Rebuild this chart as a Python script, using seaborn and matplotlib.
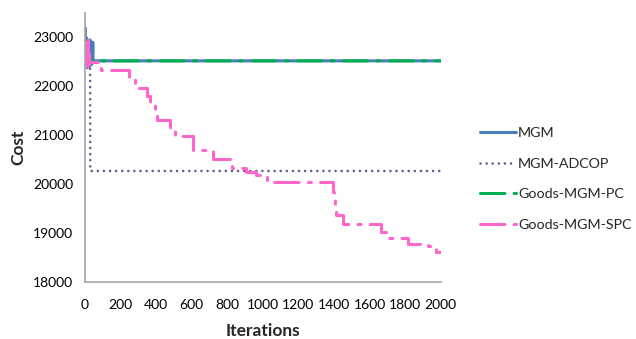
import pandas as pd
import matplotlib
matplotlib.use("Agg")
import matplotlib.pyplot as plt
import seaborn as sns

# Data (iteration, cost)
mgm_iter = [0, 2, 4, 6, 8, 10, 12, 14, 16, 18, 20, 22, 24, 26, 28, 30, 32, 34, 36, 38, 40, 42, 44, 46, 48, 2000]
mgm_cost = [22900, 23200, 22600, 22400, 23000, 22500, 22850, 22380, 22950, 22450, 22700, 22900, 22400,
            22800, 22500, 22950, 22420, 22850, 22600, 22900, 22450, 22800, 22550, 22900, 22520, 22520]

adcop_iter = [0, 5, 10, 15, 20, 25, 31, 32, 2000]
adcop_cost = [22600, 22450, 22700, 22500, 22550, 22480, 22480, 20270, 20270]

pc_iter = [0, 2, 4, 6, 8, 10, 12, 14, 16, 18, 20, 22, 2000]
pc_cost = [22700, 22950, 22500, 22800, 22450, 22900, 22600, 22850, 22480, 22750, 22550, 22520, 22520]

spc_iter = [0, 2, 4, 6, 8, 10, 12, 14, 16, 18, 20, 22, 24, 26, 90, 250, 285, 350, 365, 395, 405,
            480, 510, 610, 720, 830, 905, 960, 1027, 1393, 1400, 1405, 1410, 1450, 1662, 1690,
            1814, 1930, 1975, 2000]
spc_cost = [22600, 22850, 22450, 22900, 22500, 22750, 22420, 22800, 22550, 22950, 22480, 22650,
            22450, 22490, 22330, 22170, 21960, 21800, 21640, 21500, 21310, 21150, 20990, 20700,
            20520, 20330, 20240, 20195, 20050, 19830, 19680, 19520, 19360, 19180, 19016, 18894,
            18772, 18730, 18610, 18610]

dotted = (0, (0.01, 2.3))
series = [
    ("MGM", mgm_iter, mgm_cost, "#4A7EBB", "-", 2.2, None),
    ("MGM-ADCOP", adcop_iter, adcop_cost, "#6E5890", dotted, 1.9, None),
    ("Goods-MGM-PC", pc_iter, pc_cost, "#00B050", (0, (8, 3, 1, 3)), 2.2, None),
    ("Goods-MGM-SPC", spc_iter, spc_cost, "#FF66CC", (0, (8, 3, 1, 3)), 2.2, "steps-post"),
]

sns.set_style("white")
plt.rcParams['font.family'] = ['Lato', 'DejaVu Sans']

fig = plt.figure(figsize=(6.36, 3.39), dpi=100)
ax = fig.add_axes([0.133, 0.168, 0.56, 0.794])

for name, xs, ys, color, ls, lw, ds in series:
    df = pd.DataFrame({"Iterations": xs, "Cost": ys})
    kw = {}
    if ds:
        kw["drawstyle"] = ds
    sns.lineplot(data=df, x="Iterations", y="Cost", ax=ax, color=color, linestyle=ls,
                 linewidth=lw, label=name, sort=False, dash_capstyle="round", **kw)

ax.set_xlim(0, 2000)
ax.set_ylim(18000, 23500)
ax.set_xticks(range(0, 2001, 200))
ax.set_yticks(range(18000, 23001, 1000))
ax.tick_params(length=0, labelsize=10, colors="#000000")
ax.tick_params(axis="x", pad=12)
ax.tick_params(axis="y", pad=8)
for s in ["top", "right"]:
    ax.spines[s].set_visible(False)
for s in ["left", "bottom"]:
    ax.spines[s].set_color("#A6A6A6")
    ax.spines[s].set_linewidth(1.2)

ax.set_xlabel("Iterations", fontsize=12.5, fontweight="bold", labelpad=9)
ax.set_ylabel("Cost", fontsize=12.5, fontweight="bold", labelpad=5)

ax.legend(loc="center left", bbox_to_anchor=(0.755, 0.472), bbox_transform=fig.transFigure,
          frameon=False, fontsize=10.3, handlelength=2.5, handletextpad=0.15,
          labelspacing=1.3, borderpad=0, borderaxespad=0)

fig.savefig("out.png", dpi=100)
